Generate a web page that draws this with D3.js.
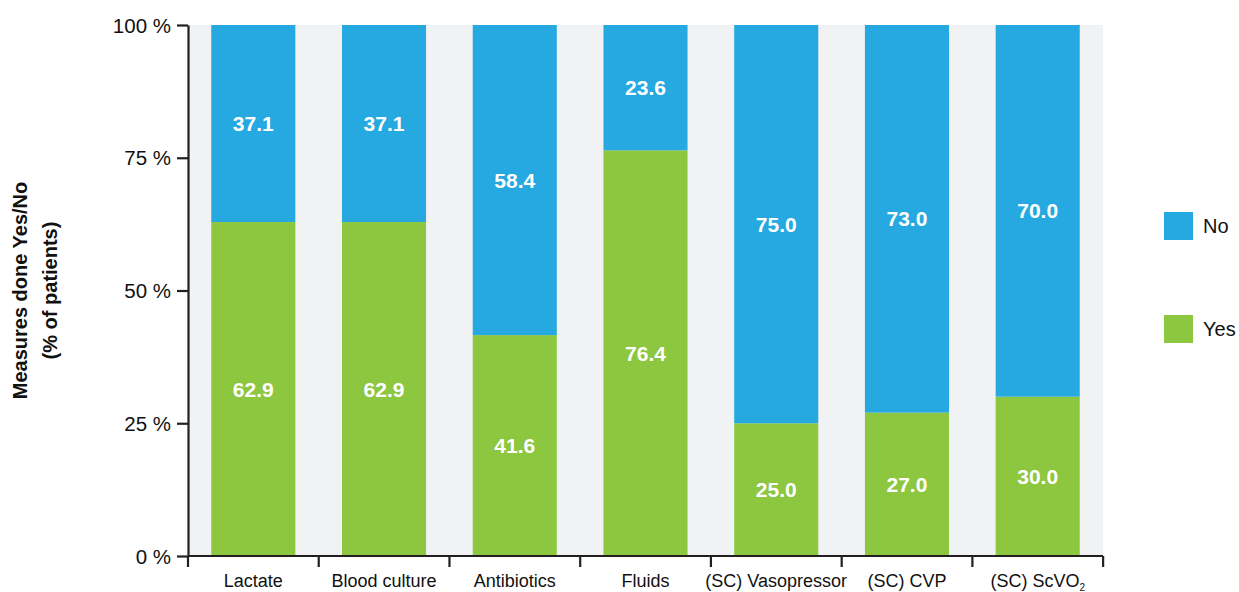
<!DOCTYPE html>
<html>
<head>
<meta charset="utf-8">
<script src="https://cdn.jsdelivr.net/npm/d3@7"></script>
<style>
  html, body { margin: 0; padding: 0; background: #fff; }
  svg { display: block; font-family: "Liberation Sans", Arial, sans-serif; }
</style>
</head>
<body>
<svg id="chart" width="1239" height="592"></svg>
<script>
// Measures done per patient, stacked share of Yes / No
const categories = ["Lactate", "Blood culture", "Antibiotics", "Fluids", "(SC) Vasopressor", "(SC) CVP", "(SC) ScVO2"];
const yesValues = [62.9, 62.9, 41.6, 76.4, 25.0, 27.0, 30.0];
const noValues  = [37.1, 37.1, 58.4, 23.6, 75.0, 73.0, 70.0];
const yTicks = [0, 25, 50, 75, 100];
const seriesNames = ["No", "Yes"];

const colors = { Yes: "#8dc63f", No: "#25a9e0" };
const axisColor = "#231f20";
const textColor = "#111";

const svg = d3.select("#chart");
const margin = { left: 188, right: 136, top: 25, bottom: 36 };
const W = 1239, H = 592;

const x = d3.scaleBand()
  .domain(categories)
  .range([margin.left, W - margin.right])
  .paddingInner(0.357)
  .paddingOuter(0.178);

const y = d3.scaleLinear()
  .domain([0, 100])
  .range([H - margin.bottom, margin.top]);

// plot background
svg.append("rect")
  .attr("x", margin.left)
  .attr("y", margin.top)
  .attr("width", W - margin.right - margin.left)
  .attr("height", y(0) - margin.top)
  .attr("fill", "#f1f2f4");

const rows = categories.map((c, i) => ({ cat: c, Yes: yesValues[i], No: noValues[i] }));
const stack = d3.stack().keys(["Yes", "No"]);
const layers = stack(rows);

const g = svg.append("g");
layers.forEach(layer => {
  const key = layer.key;
  g.selectAll(null)
    .data(layer)
    .enter()
    .append("rect")
    .attr("x", d => x(d.data.cat))
    .attr("width", x.bandwidth())
    .attr("y", d => y(d[1]))
    .attr("height", d => y(d[0]) - y(d[1]))
    .attr("fill", colors[key]);

  g.selectAll(null)
    .data(layer)
    .enter()
    .append("text")
    .attr("x", d => x(d.data.cat) + x.bandwidth() / 2)
    .attr("y", d => (y(d[0]) + y(d[1])) / 2)
    .attr("dy", "0.36em")
    .attr("text-anchor", "middle")
    .attr("fill", "#fff")
    .attr("font-weight", "bold")
    .attr("font-size", 21)
    .text(d => d.data[key].toFixed(1));
});

// y axis
const yAxis = svg.append("g")
  .attr("transform", `translate(${margin.left},0)`)
  .call(d3.axisLeft(y).tickValues(yTicks).tickFormat(d => d + " %").tickSize(11).tickSizeOuter(0));
yAxis.attr("font-family", null).attr("font-size", null);
yAxis.select(".domain").attr("stroke", axisColor).attr("stroke-width", 2.2);
yAxis.selectAll(".tick line").attr("stroke", axisColor).attr("stroke-width", 2.2);
yAxis.selectAll(".tick text")
  .attr("font-size", 20.5)
  .attr("fill", textColor)
  .attr("x", -17)
  .attr("dy", "0.35em");

// x axis with ticks on band boundaries
const xAxisG = svg.append("g").attr("transform", `translate(0,${y(0)})`);
xAxisG.append("line")
  .attr("x1", margin.left).attr("x2", W - margin.right)
  .attr("stroke", axisColor).attr("stroke-width", 2.2);
const step = x.step();
const boundaries = d3.range(categories.length + 1).map(i => x(categories[0]) - x.paddingOuter() * step + i * step);
xAxisG.selectAll(null)
  .data(boundaries)
  .enter()
  .append("line")
  .attr("x1", d => d).attr("x2", d => d)
  .attr("y1", 0).attr("y2", 11)
  .attr("stroke", axisColor).attr("stroke-width", 2.2);

const catLabels = xAxisG.selectAll(null)
  .data(categories)
  .enter()
  .append("text")
  .attr("x", d => x(d) + x.bandwidth() / 2)
  .attr("y", 31)
  .attr("text-anchor", "middle")
  .attr("font-size", 18)
  .attr("fill", textColor);
catLabels.each(function(d) {
  const t = d3.select(this);
  if (d.endsWith("ScVO2")) {
    t.append("tspan").text(d.slice(0, -1));
    t.append("tspan").attr("font-size", 10).attr("dy", 3.5).text("2");
  } else {
    t.text(d);
  }
});

// y axis title
const yTitle = svg.append("text")
  .attr("transform", `translate(27,${(y(0) + y(100)) / 2}) rotate(-90)`)
  .attr("text-anchor", "middle")
  .attr("font-weight", "bold")
  .attr("font-size", 20)
  .attr("fill", textColor);
yTitle.append("tspan").attr("x", 0).attr("dy", 0).text("Measures done Yes/No");
yTitle.append("tspan").attr("x", 0).attr("dy", 30).text("(% of patients)");

// legend
const legend = svg.append("g").attr("transform", "translate(1164,0)");
const legendY = { No: 212, Yes: 315 };
seriesNames.forEach(name => {
  legend.append("rect")
    .attr("x", 0).attr("y", legendY[name])
    .attr("width", 29).attr("height", 28)
    .attr("fill", colors[name]);
  legend.append("text")
    .attr("x", 39).attr("y", legendY[name] + 14)
    .attr("dy", "0.35em")
    .attr("font-size", 20)
    .attr("fill", textColor)
    .text(name);
});
</script>
</body>
</html>
